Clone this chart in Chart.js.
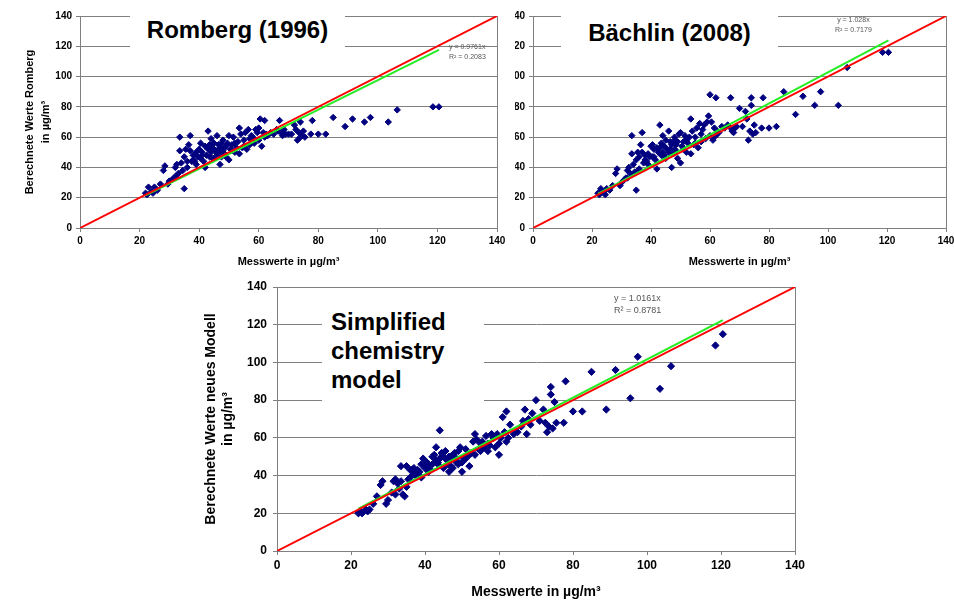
<!DOCTYPE html>
<html>
<head>
<meta charset="utf-8">
<script src="https://cdn.jsdelivr.net/npm/chart.js@4.4.0/dist/chart.umd.min.js"></script>
<style>
  body { margin: 0; width: 954px; height: 601px; background: #fff; position: relative; overflow: hidden; font-family: "Liberation Sans", Arial, sans-serif; }
  canvas, .box, .eq, .clip { position: absolute; }
  .box { background: #fff; font-weight: bold; color: #000; font-size: 24px; white-space: nowrap; }
  .eq { color: #555; white-space: nowrap; }
</style>
</head>
<body>
<canvas id="c1" width="510" height="275" style="left:0;top:0"></canvas>
<div class="clip" style="left:515px;top:0;width:439px;height:275px;overflow:hidden">
  <canvas id="c2" width="505" height="275" style="left:-61px;top:0"></canvas>
</div>
<canvas id="c3" width="620" height="331" style="left:190px;top:270px"></canvas>

<div class="box" style="left:130px;top:8px;width:215px;height:39px;line-height:44px;text-align:center">Romberg (1996)</div>
<div class="box" style="left:561px;top:13px;width:217px;height:39px;line-height:40px;text-align:center">Bächlin (2008)</div>
<div class="box" style="left:322px;top:305px;width:153px;height:86px;padding:2px 0 9px 9px;line-height:29px">Simplified<br>chemistry<br>model</div>

<div class="eq" style="left:449px;top:42px;font-size:7px;line-height:10px">y = 0.9761x<br>R² = 0.2083</div>
<div class="eq" style="left:835px;top:15px;font-size:7px;line-height:10px;text-align:center">y = 1.028x<br>R² = 0.7179</div>
<div class="eq" style="left:614px;top:292px;font-size:9px;line-height:12px">y = 1.0161x<br>R² = 0.8781</div>

<script>
// Messwerte (µg/m³)
const measured = [
  22, 22.5, 23, 24, 24.5, 25, 27, 28, 28.5, 29.5,
  30, 31, 32, 32, 32.5, 33, 33.5, 33.5, 34, 34.5,
  35, 35, 35.5, 36, 36.5, 37, 37, 37.5, 38, 38.5,
  39, 39, 39.5, 40, 40.5, 40.5, 41, 41.5, 42, 42,
  42.5, 43, 43, 43.5, 44, 44, 44.5, 45, 45, 45.5,
  46, 46, 46.5, 47, 47, 47.5, 48, 48, 48.5, 49,
  49.5, 50, 50, 50.5, 51, 51.5, 52, 52.5, 53, 53.5,
  53.5, 54, 54.5, 55, 55.5, 56, 56.5, 57, 57.5, 58,
  58.5, 59, 59.5, 60, 60, 60.5, 61, 61.5, 62, 62,
  62.5, 63, 64, 65, 66, 66.5, 67, 67.5, 68, 68.5,
  69, 70, 71, 72, 72.5, 73, 73.5, 74, 74, 74.5,
  75, 75.5, 77.5, 78, 80, 82.5, 85, 89, 91.5, 95.5,
  97.5, 103.5, 106.5, 118.5, 120.5,
  41, 43.5, 44.5, 46.5, 48.5, 49, 51, 52, 55, 57, 36, 38, 31.5, 26, 47.5
];
// Berechnete Werte Romberg
const romberg = [
  23, 22, 27, 24, 23, 27, 29, 38, 41, 29,
  31, 32, 40, 34, 42, 36, 60, 51, 43, 38,
  26, 47, 52, 44, 55, 61, 51, 44, 48, 44,
  50, 42, 47, 52, 46, 56, 50, 44, 54, 40,
  48, 64, 52, 47, 59, 50, 53, 46, 56, 51,
  61, 49, 55, 42, 53, 47, 58, 51, 49, 54,
  56, 61, 45, 52, 55, 60, 50, 53, 57, 66,
  49, 62, 53, 58, 63, 52, 65, 55, 61, 60,
  56, 65, 63, 66, 58, 72, 54, 63, 71, 60,
  62, 61, 63, 62, 65, 64, 71, 63, 61, 65,
  62, 62, 62, 68, 65, 58, 63, 70, 60, 61,
  64, 60, 62, 71, 62, 62, 73, 67, 72, 70,
  73, 70, 78, 80, 80,
  48, 55, 46, 50, 53, 47, 51, 56, 54, 59, 40, 45, 33, 25, 56
];
// Berechnete Werte Bächlin
const baechlin = [
  23, 22, 26, 24, 22, 26, 28, 36, 39, 28,
  30, 32, 38, 33, 40, 36, 61, 49, 42, 37,
  25, 45, 50, 47, 55, 63, 50, 43, 48, 44,
  49, 42, 47, 54, 47, 55, 52, 45, 53, 39,
  50, 68, 53, 48, 61, 50, 54, 46, 58, 52,
  64, 50, 57, 40, 55, 49, 60, 52, 51, 57,
  62, 63, 43, 54, 57, 61, 50, 56, 60, 72,
  49, 64, 55, 60, 66, 53, 69, 57, 65, 68,
  59, 70, 74, 88, 61, 70, 58, 66, 86, 61,
  64, 63, 67, 66, 68, 67, 86, 64, 63, 66,
  67, 79, 67, 77, 72, 58, 64, 86, 81, 62,
  68, 63, 66, 86, 66, 67, 90, 75, 87, 81,
  90, 81, 106, 116, 116,
  47, 56, 48, 52, 55, 46, 52, 58, 56, 62, 39, 45, 33, 25, 57
];
// Berechnete Werte neues Modell
const simplified = [
  20, 21, 20, 22, 21, 22, 29, 35, 37, 25,
  27, 31, 38, 30, 36, 33, 45, 37, 30, 29,
  34, 45, 38, 39, 43, 44, 41, 40, 43, 42,
  46, 39, 49, 44, 45, 47, 46, 43, 50, 46,
  51, 55, 48, 47, 64, 49, 52, 44, 50, 53,
  48, 46, 42, 45, 49, 44, 52, 50, 47, 53,
  55, 47, 42, 49, 54, 51, 45, 52, 58, 62,
  51, 59, 54, 57, 58, 55, 61, 53, 56, 62,
  60, 55, 62, 57, 51, 60, 71, 63, 74, 58,
  60, 67, 62, 63, 66, 69, 75, 62, 70, 67,
  73, 80, 69, 75, 68, 63, 66, 87, 83, 65,
  79, 68, 68, 90, 74, 74, 95, 75, 96, 81,
  103, 86, 98, 109, 115,
  42, 46, 50, 50, 48, 46, 49, 51, 53, 57, 43, 41, 37, 25, 51
];
const tickValues = [0, 20, 40, 60, 80, 100, 120, 140];
const lineX = [0, 140];
const idealY = [0, 140];
const fitX = [22, 120.5];
const fitRomberg = [21.5, 117.6];
const fitBaechlin = [22.6, 123.9];
const fitSimplified = [22.4, 122.4];

const frame = {
  id: 'frame',
  beforeDatasetsDraw(chart) {
    const a = chart.chartArea, ctx = chart.ctx;
    ctx.save();
    ctx.strokeStyle = '#808080';
    ctx.lineWidth = 1;
    ctx.strokeRect(Math.round(a.left) + 0.5, Math.round(a.top) + 0.5, Math.round(a.right - a.left), Math.round(a.bottom - a.top));
    ctx.restore();
  }
};

function pts(xs, ys) {
  return xs.map((x, i) => ({ x: x, y: ys[i] }));
}

function makeChart(id, values, fitY, o) {
  new Chart(document.getElementById(id), {
    type: 'scatter',
    data: {
      datasets: [
        { data: pts(lineX, idealY), showLine: true, borderColor: '#ff0000', borderWidth: 2, pointRadius: 0, order: 0 },
        { data: pts(fitX, fitY), showLine: true, borderColor: '#22ee22', borderWidth: 2, pointRadius: 0, order: 1 },
        { data: pts(measured, values), pointStyle: 'rectRot', pointRadius: o.r, pointBorderWidth: 1,
          backgroundColor: '#000080', borderColor: '#000080', order: 2 }
      ]
    },
    options: {
      responsive: false,
      animation: false,
      layout: { padding: { top: o.top, right: o.right, left: 0, bottom: 0 } },
      plugins: { legend: { display: false }, tooltip: { enabled: false } },
      scales: {
        x: {
          min: 0, max: 140,
          afterBuildTicks: s => { s.ticks = tickValues.map(v => ({ value: v })); },
          afterFit: s => { s.height = o.xh; },
          grid: { drawOnChartArea: false, tickLength: 4, color: '#808080' },
          border: { color: '#808080' },
          ticks: { color: '#000', padding: 3, font: { family: 'Liberation Sans', size: o.tick, weight: 'bold' }, maxRotation: 0 },
          title: { display: true, text: 'Messwerte in µg/m³', color: '#000', padding: { top: 0, bottom: o.xtPad },
                   font: { family: 'Liberation Sans', size: o.title, weight: 'bold', lineHeight: 1.2 } }
        },
        y: {
          min: 0, max: 140,
          afterBuildTicks: s => { s.ticks = tickValues.map(v => ({ value: v })); },
          afterFit: s => { s.width = o.yw; },
          grid: { tickLength: 4, color: '#808080' },
          border: { color: '#808080' },
          ticks: { color: '#000', padding: o.ytPad, font: { family: 'Liberation Sans', size: o.tick, weight: 'bold' } },
          title: { display: o.ytitle !== null, text: o.ytitle || '', color: '#000', padding: { top: o.ytTop, bottom: 0 },
                   font: { family: 'Liberation Sans', size: o.title, weight: 'bold', lineHeight: o.ylh } }
        }
      }
    },
    plugins: [frame]
  });
}

makeChart('c1', romberg, fitRomberg, {
  r: 3.2, top: 16, right: 13, xh: 47, yw: 80, tick: 10, title: 11, xtPad: 6, ytPad: 4, ytTop: 22, ylh: 1.45,
  ytitle: ['Berechnete Werte Romberg', 'in µg/m³']
});
makeChart('c2', baechlin, fitBaechlin, {
  r: 3.2, top: 16, right: 13, xh: 47, yw: 79, tick: 10, title: 11, xtPad: 6, ytPad: 4, ytTop: 22, ylh: 1.36,
  ytitle: null
});
makeChart('c3', simplified, fitSimplified, {
  r: 3.6, top: 17, right: 15, xh: 50, yw: 87, tick: 12, title: 14, xtPad: 0, ytPad: 6, ytTop: 13, ylh: 1.22,
  ytitle: ['Berechnete Werte neues Modell', 'in µg/m³']
});
</script>
</body>
</html>
